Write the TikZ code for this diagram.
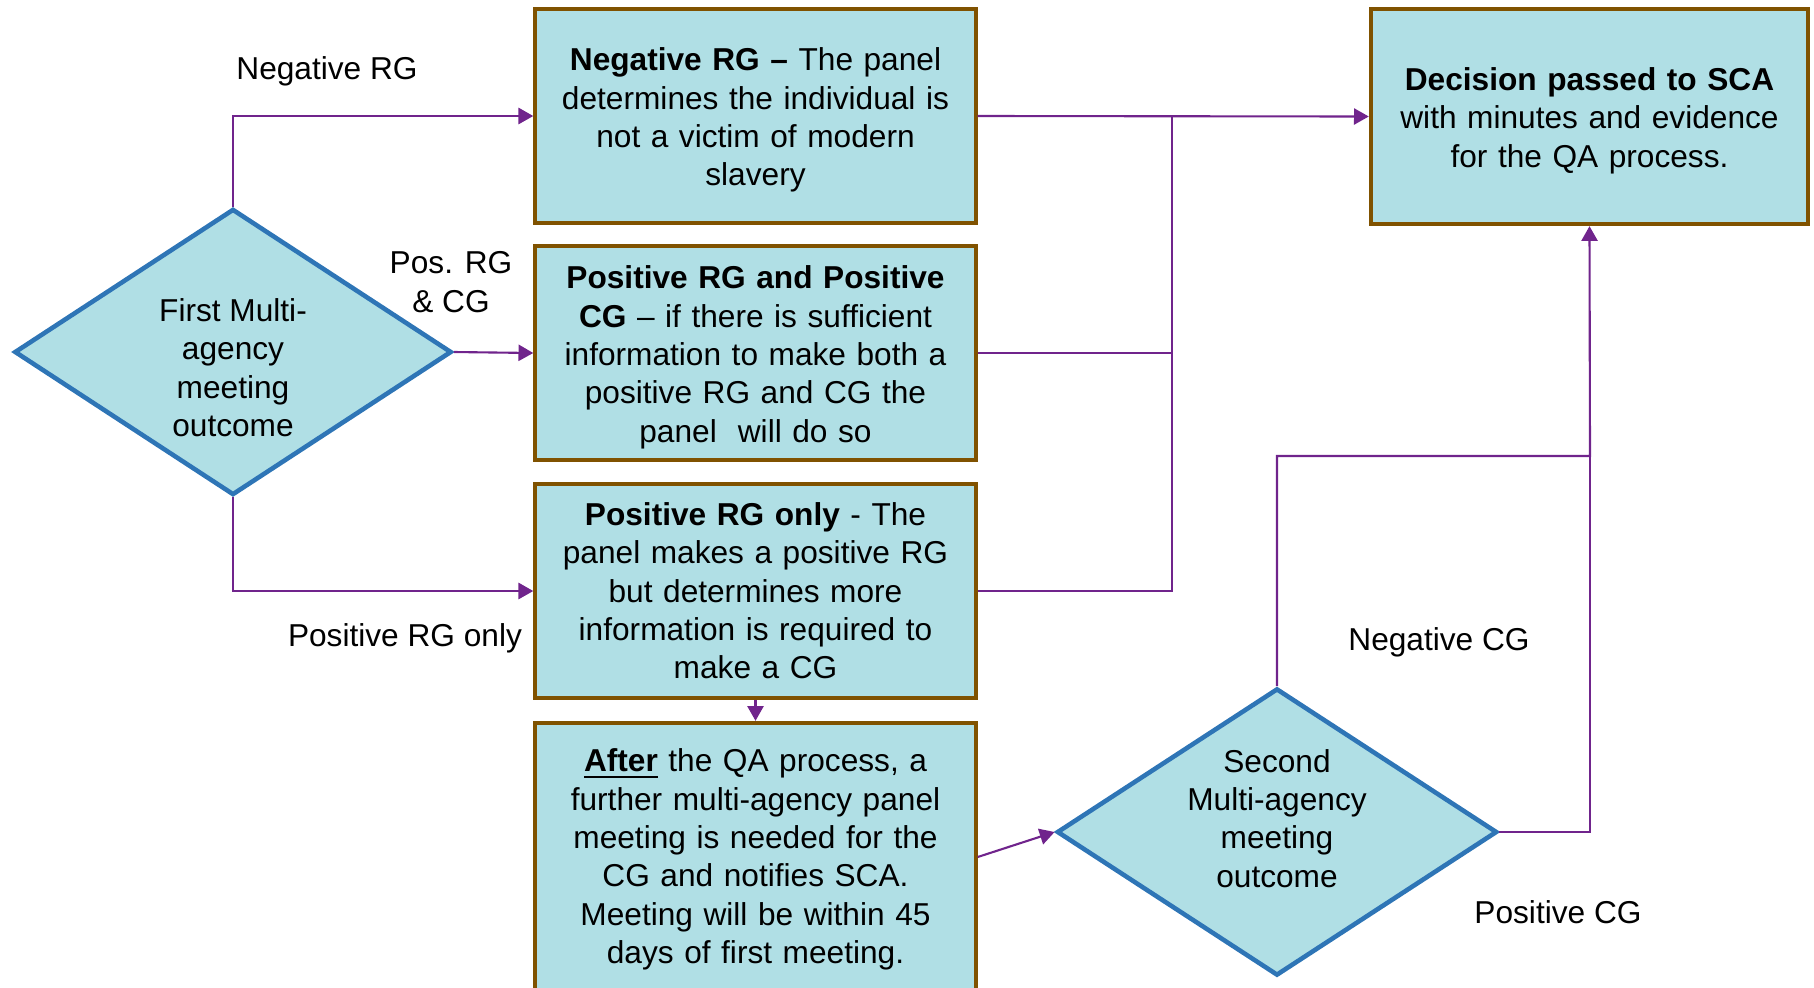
\documentclass[tikz,border=0pt]{standalone}
\usepackage{fontspec}
\setmainfont{Liberation Sans}
\usetikzlibrary{shapes.geometric,arrows.meta}

\definecolor{panelfill}{RGB}{176,223,229}
\definecolor{paneledge}{RGB}{128,82,0}
\definecolor{outcomeedge}{RGB}{46,117,182}
\definecolor{flowpurple}{RGB}{112,36,140}

\newcommand\toppad[1]{\mbox{}\\[#1]}

\tikzset{
	panel/.style={draw=paneledge,line width=1.2pt,fill=panelfill,minimum width=4.4cm,minimum height=2.14cm,text width=4.3cm,align=center,inner sep=0pt},
	outcome/.style={diamond,aspect=1.5,draw=outcomeedge,line width=1.3pt,fill=panelfill,minimum width=4.37cm,minimum height=2.86cm,align=center,inner sep=0pt},
	flow/.style={draw=flowpurple,line width=0.6pt},
	flowarrow/.style={flow,-{Triangle[length=4.2pt,width=4.6pt]}},
	tag/.style={align=center}
}

\begin{document}
\begin{tikzpicture}[x=0.01cm,y=-0.01cm,font=\fontsize{9}{10.9}\selectfont]
	\useasboundingbox (0,0) rectangle (1814,987);
	\clip (0,0) rectangle (1814,987);
	\node[outcome] (first) at (233,352) {\toppad{4.6pt}First Multi-\\agency\\meeting\\outcome};
	\node[panel] (negrg) at (755.5,116) {\toppad{-2pt}\textbf{Negative RG –} The panel\\determines the individual is\\not a victim of modern\\slavery};
	\node[panel] (bothpos) at (755.5,353) {\toppad{-2pt}\textbf{Positive RG and Positive}\\\textbf{CG} – if there is sufficient\\information to make both a\\positive RG and CG the\\panel \ will do so};
	\node[panel] (rgonly) at (755.5,591) {\textbf{Positive RG only} - The\\panel makes a positive RG\\but determines more\\information is required to\\make a CG};
	\node[panel,minimum height=2.68cm] (after) at (755.5,857) {\toppad{-3pt}\underline{\textbf{After}} the QA process, a\\further multi-agency panel\\meeting is needed for the\\CG and notifies SCA.\\Meeting will be within 45\\days of first meeting.};
	\node[panel,minimum width=4.37cm,minimum height=2.15cm] (sca) at (1589.5,116.5) {\toppad{-2pt}\textbf{Decision passed to SCA}\\with minutes and evidence\\for the QA process.};
	\node[outcome,minimum width=4.4cm,minimum height=2.87cm] (second) at (1277,832) {Second\\Multi-agency\\meeting\\outcome\\[-3pt]\mbox{}};
	\node[tag] (lnegrg) at (327,71) {Negative RG};
	\node[tag] (lboth) at (451,282) {Pos. RG\\\& CG};
	\node[tag] (lrgonly) at (405,638) {Positive RG only};
	\node[tag] (lnegcg) at (1439,642) {Negative CG};
	\node[tag] (lposcg) at (1558,912) {Positive CG};
	\coordinate (join) at (1172,116);
	\coordinate (bend) at (1590,456);
	\draw[flowarrow] (first.north) |- (negrg.west);
	\draw[flowarrow] (first.east) -- (bothpos.west);
	\draw[flowarrow] (first.south) |- (rgonly.west);
	\draw[flowarrow] (negrg.east) -- (sca.west);
	\foreach \n in {bothpos,rgonly}
		\draw[flow] (\n.east) -| (join);
	\draw[flowarrow] (rgonly.south) -- (after.north);
	\draw[flowarrow] (after.east) -- (second.west);
	\draw[flowarrow] (second.north) |- (bend) -- (sca.south);
	\draw[flow] (second.east) -| (bend);
\end{tikzpicture}
\end{document}
